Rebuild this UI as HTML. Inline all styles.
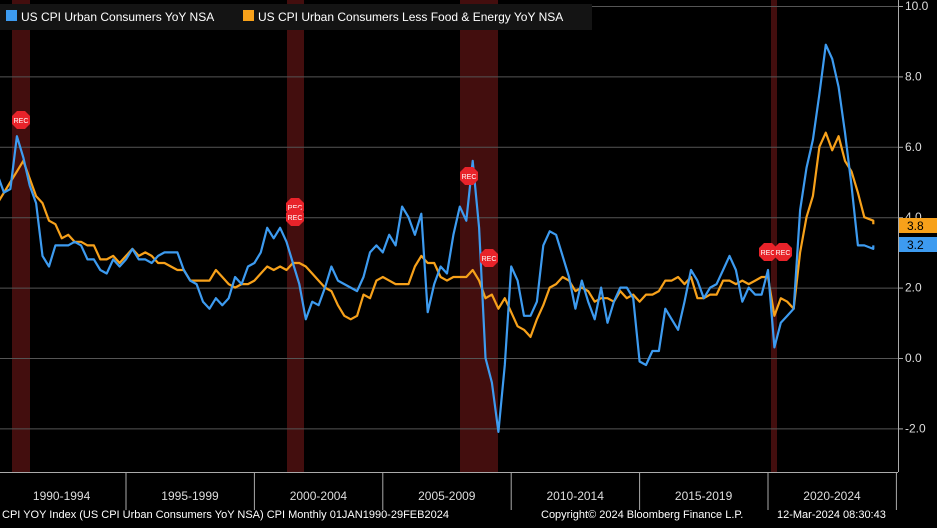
<!DOCTYPE html>
<html><head><meta charset="utf-8"><style>
body{margin:0;background:#000;width:937px;height:523px;overflow:hidden;font-family:"Liberation Sans",sans-serif}
</style></head><body>
<svg id="s" width="937" height="523" xmlns="http://www.w3.org/2000/svg" font-family="Liberation Sans, sans-serif">
<rect width="937" height="523" fill="#000"/>
<g fill="#4a1010" opacity="0.9">
<rect x="12" y="0" width="18" height="472"/>
<rect x="287" y="0" width="17" height="472"/>
<rect x="460" y="0" width="38" height="472"/>
<rect x="771" y="0" width="6" height="472"/>
</g>
<g id="grid" stroke="#555" stroke-width="1"></g>
<line x1="898.5" y1="0" x2="898.5" y2="472" stroke="#aaa"/>
<line x1="0" y1="472.5" x2="898" y2="472.5" stroke="#aaa"/>
<g id="yl" fill="#ddd" font-size="12"></g>
<g id="series"></g>
<g id="xl" fill="#ddd" font-size="12"></g>
<g font-size="12" fill="#fff">
<rect x="0" y="4" width="592" height="26" fill="#141414"/>
<rect x="6" y="10" width="11" height="11" fill="#3d9bf0"/>
<text x="21" y="21">US CPI Urban Consumers YoY NSA</text>
<rect x="243" y="10" width="11" height="11" fill="#f7a11a"/>
<text x="258" y="21">US CPI Urban Consumers Less Food &amp; Energy YoY NSA</text>
</g>
<text x="2" y="518" font-size="11" fill="#fff">CPI YOY Index (US CPI Urban Consumers YoY NSA) CPI  Monthly 01JAN1990-29FEB2024</text>
<text x="541" y="518" font-size="11" fill="#fff">Copyright© 2024 Bloomberg Finance L.P.</text>
<text x="777" y="518" font-size="11" fill="#fff">12-Mar-2024 08:30:43</text>
</svg>
<script>
const NS="http://www.w3.org/2000/svg";
const s=document.getElementById('s');
function el(t,a,p){const e=document.createElementNS(NS,t);for(const k in a)e.setAttribute(k,a[k]);(p||s).appendChild(e);return e;}
const Y=v=>358-v*35.2, X=y=>-2.4+(y-1990)*25.68;
const g=document.getElementById('grid'),yl=document.getElementById('yl');
[10,8,6,4,2,0,-2].forEach(v=>{el('line',{x1:0,x2:898,y1:Y(v)+.5,y2:Y(v)+.5},g);el('line',{x1:898,x2:903,y1:Y(v)+.5,y2:Y(v)+.5,stroke:'#aaa'});
const t=el('text',{x:905,y:Y(v)+4},yl);t.textContent=v.toFixed(1);});
const xl=document.getElementById('xl');
['1990-1994','1995-1999','2000-2004','2005-2009','2010-2014','2015-2019','2020-2024'].forEach((l,i)=>{
const x0=X(1990+5*i);el('line',{x1:x0+128.4,x2:x0+128.4,y1:472,y2:510,stroke:'#aaa'});
const t=el('text',{x:x0+64,y:500,'text-anchor':'middle'},xl);t.textContent=l;});
const cpi=[5.2,4.7,4.8,6.3,5.7,4.9,4.4,2.9,2.6,3.2,3.2,3.2,3.3,3.2,2.8,2.8,2.5,2.4,2.8,2.6,2.8,3.1,2.8,2.8,2.7,2.9,3.0,3.0,3.0,2.5,2.2,2.1,1.6,1.4,1.7,1.5,1.7,2.3,2.1,2.6,2.7,3.0,3.7,3.4,3.7,3.3,2.7,2.1,1.1,1.6,1.5,2.0,2.6,2.2,2.1,2.0,1.9,2.3,3.0,3.2,3.0,3.5,3.2,4.3,4.0,3.5,4.1,1.3,2.1,2.6,2.4,3.5,4.3,3.9,5.6,3.7,0.0,-0.7,-2.1,-0.2,2.6,2.2,1.2,1.2,1.6,3.2,3.6,3.5,2.9,2.3,1.4,2.2,1.6,1.1,2.0,1.0,1.6,2.0,2.0,1.7,-0.1,-0.2,0.2,0.2,1.4,1.1,0.8,1.6,2.5,2.2,1.7,2.0,2.1,2.5,2.9,2.5,1.6,2.0,1.8,1.8,2.5,0.3,1.0,1.2,1.4,4.2,5.4,6.2,7.5,8.9,8.5,7.7,6.4,4.9,3.2,3.2,3.1,3.2];
const core=[4.4,4.7,5.0,5.3,5.6,5.1,4.6,4.4,3.9,3.8,3.4,3.5,3.3,3.3,3.2,3.2,2.8,2.8,2.9,2.7,2.9,3.1,2.9,3.0,2.9,2.7,2.7,2.6,2.5,2.5,2.2,2.2,2.2,2.2,2.5,2.3,2.1,2.0,2.1,2.1,2.2,2.4,2.6,2.5,2.6,2.5,2.7,2.7,2.6,2.4,2.2,2.0,1.9,1.5,1.2,1.1,1.2,1.8,1.7,2.2,2.3,2.2,2.1,2.1,2.1,2.6,2.9,2.7,2.7,2.3,2.2,2.3,2.3,2.3,2.5,2.2,1.7,1.8,1.4,1.7,1.3,0.9,0.8,0.6,1.1,1.5,2.0,2.1,2.3,2.2,1.9,2.0,1.9,1.6,1.7,1.7,1.6,1.9,1.7,1.8,1.6,1.8,1.8,1.9,2.2,2.2,2.3,2.1,2.3,1.7,1.7,1.8,1.8,2.2,2.2,2.1,2.2,2.1,2.2,2.3,2.3,1.2,1.7,1.6,1.4,3.0,4.0,4.6,6.0,6.4,5.9,6.3,5.6,5.3,4.7,4.0,3.9,3.8];
function path(d,c){let p='';d.forEach((v,i)=>{const yr=i<136?1990+i*0.25:2024.1;p+=(i?'L':'M')+X(yr).toFixed(1)+' '+Y(v).toFixed(1);});
el('path',{d:p,fill:'none',stroke:c,'stroke-width':2.2,'stroke-linejoin':'round'},document.getElementById('series'));}
path(core,'#f7a11a');path(cpi,'#3d9bf0');
[[21,120],[295,207],[295,217],[469,176],[489,258],[768,252],[783,252]].forEach(([x,y])=>{
el('polygon',{points:`${x-4},${y-9} ${x+4},${y-9} ${x+9},${y-4} ${x+9},${y+4} ${x+4},${y+9} ${x-4},${y+9} ${x-9},${y+4} ${x-9},${y-4}`,fill:'#e8232a'});
const t=el('text',{x:x,y:y+3,'font-size':7,fill:'#fff','text-anchor':'middle'});t.textContent='REC';});
el('rect',{x:899,y:218,width:38,height:15,fill:'#f7a11a'});
let t=el('text',{x:907,y:230,'font-size':12,fill:'#000'});t.textContent='3.8';
el('rect',{x:899,y:237,width:38,height:15,fill:'#3d9bf0'});
t=el('text',{x:907,y:249,'font-size':12,fill:'#000'});t.textContent='3.2';
</script>
</body></html>
